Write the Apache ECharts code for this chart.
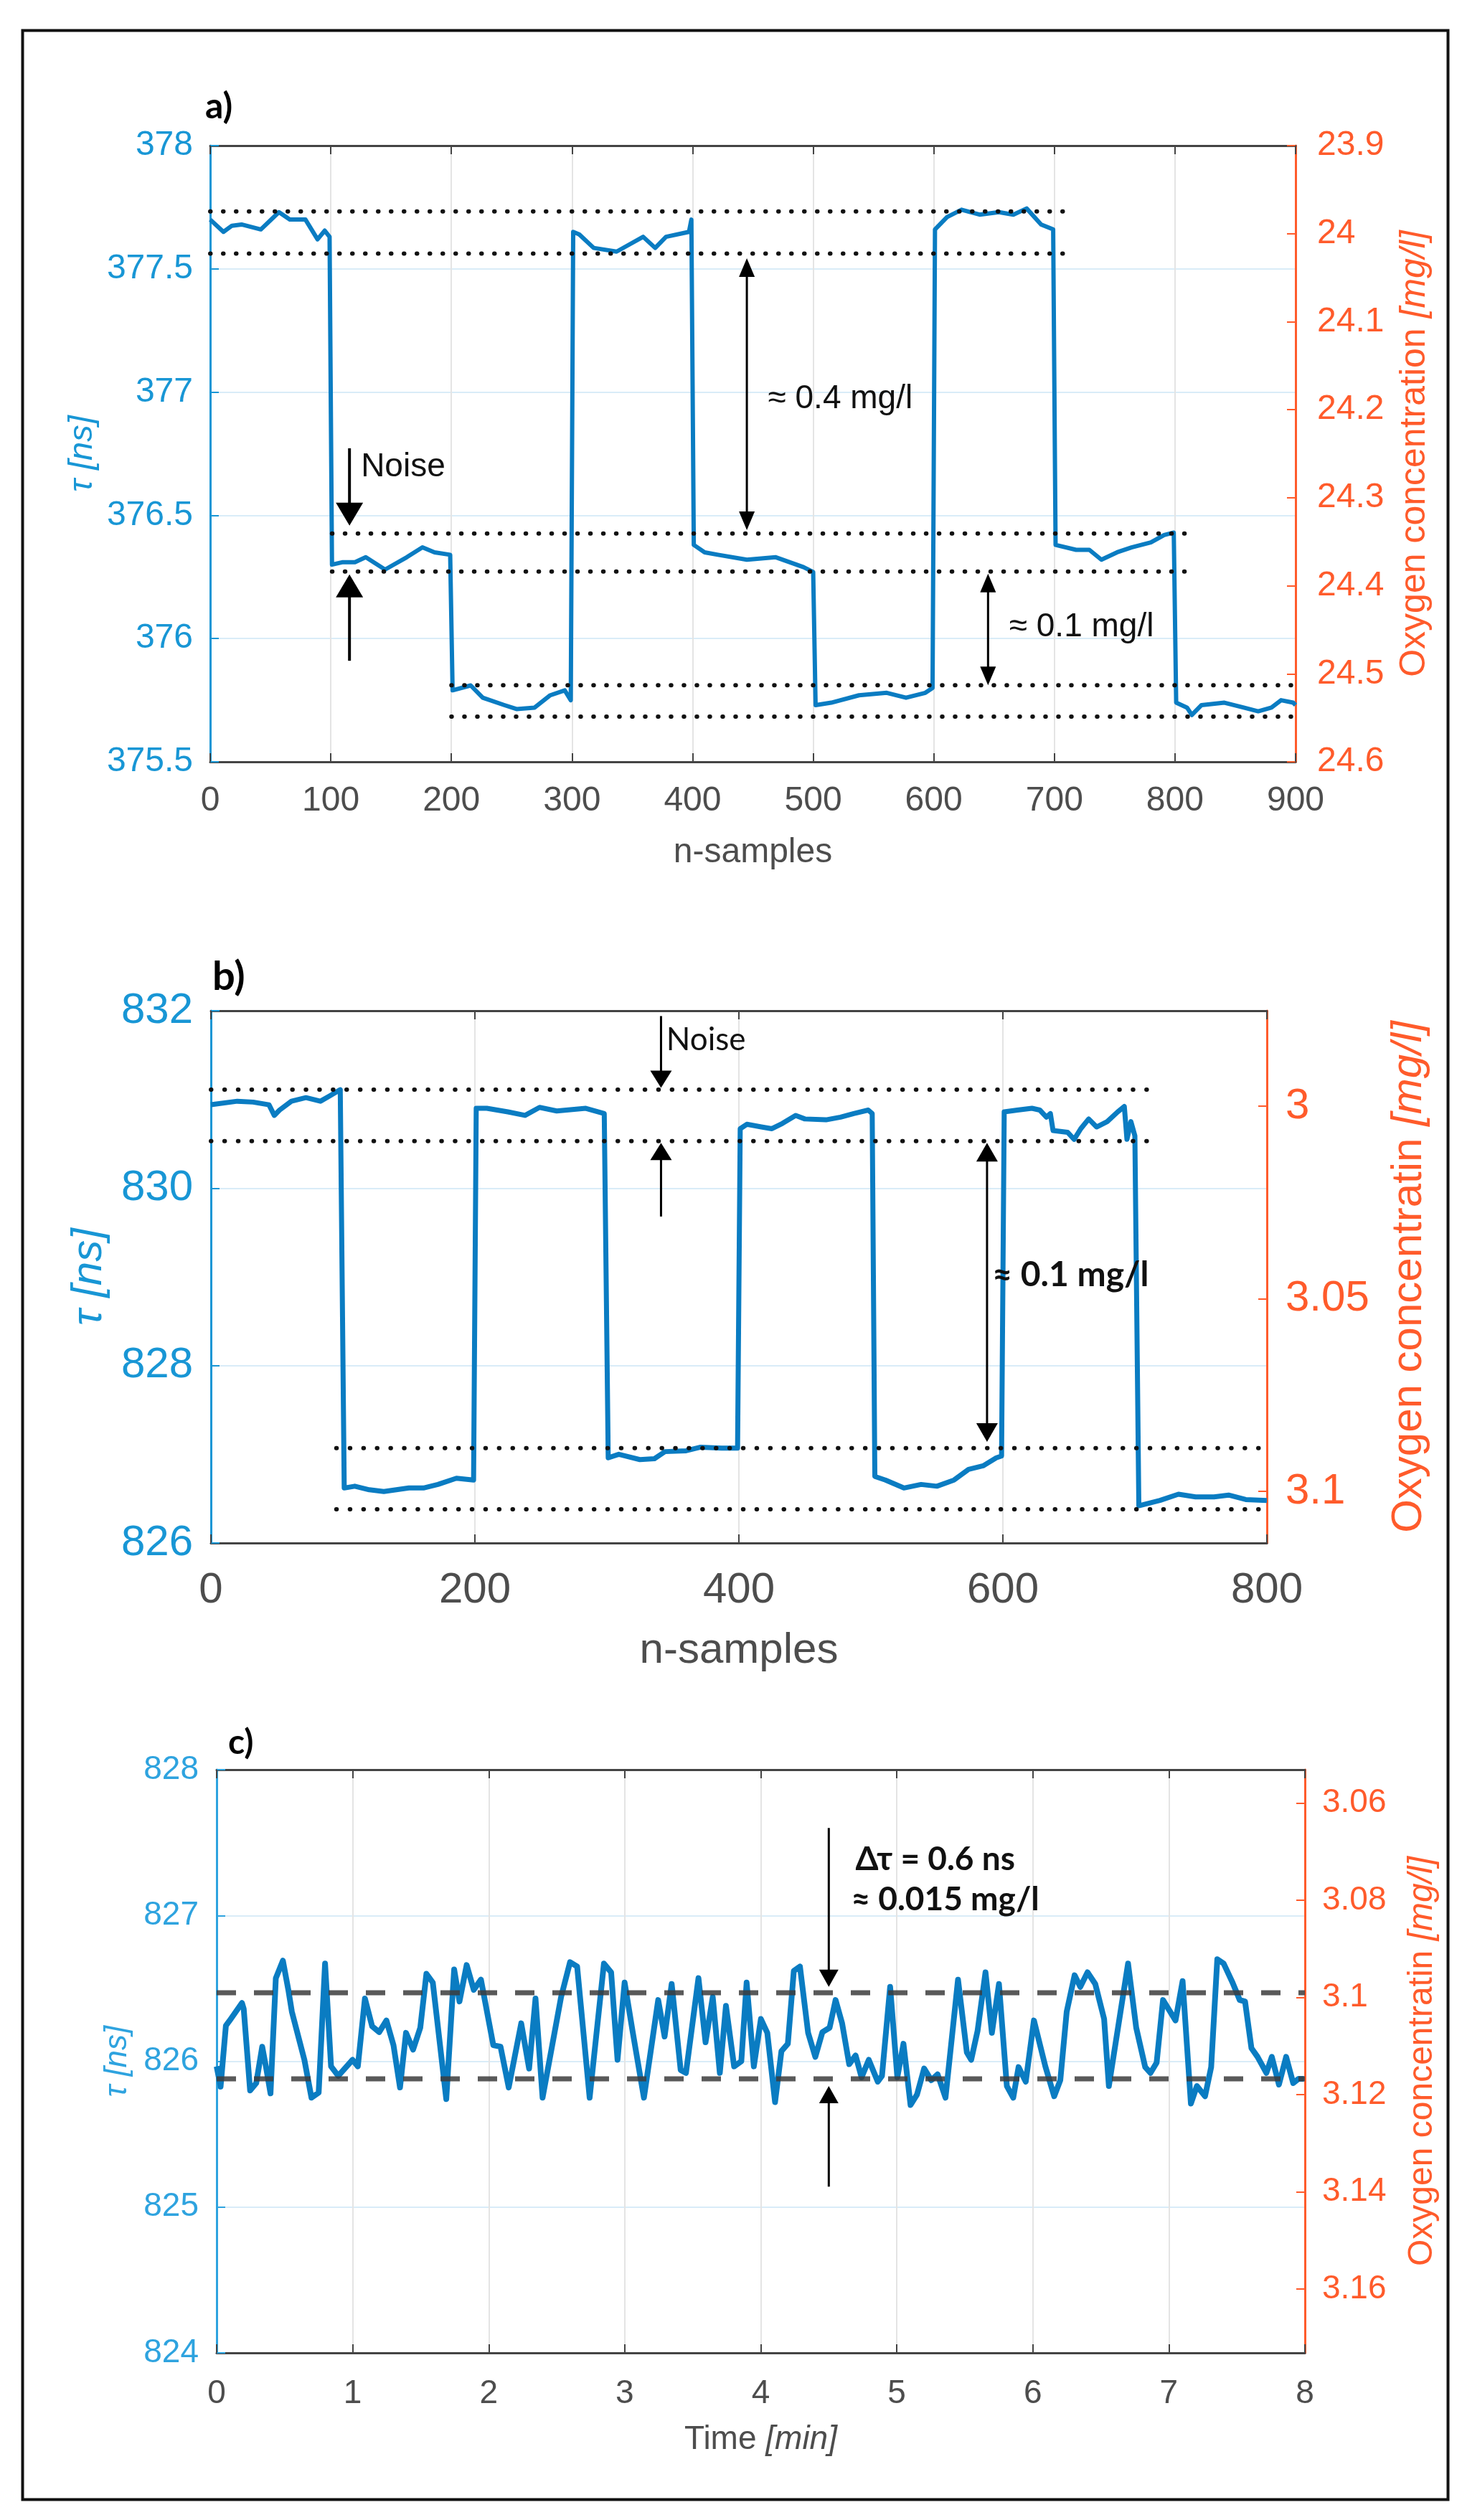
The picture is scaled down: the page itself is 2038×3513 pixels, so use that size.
<!DOCTYPE html>
<html>
<head>
<meta charset="utf-8">
<title>Oxygen sensor lifetime</title>
<script src="https://cdn.jsdelivr.net/npm/echarts@6/dist/echarts.min.js"></script>
<style>
  html, body { margin: 0; padding: 0; background: #fff; }
  #main { width: 2038px; height: 3513px; }
</style>
</head>
<body>
<div id="main"></div>
<script>
// ---- panel a) ----
var aSamples = [0, 11, 18, 26, 42, 57, 66, 79, 89, 95, 99, 101, 110, 120, 129, 145, 163, 176, 186, 199,
  201, 216, 226, 244, 254, 269, 282, 294, 299, 301, 306, 318, 337, 359, 369, 378, 397, 399,
  401, 410, 421, 445, 469, 492, 500, 502, 515, 538, 561, 577, 593, 599, 601, 611, 623, 638, 654, 666,
  677, 689, 699, 701, 718, 729, 739, 752, 764, 780, 791, 799, 801, 810, 814, 822, 841, 857, 869, 880, 888, 898, 900];
var aTau = [377.70, 377.65, 377.675, 377.68, 377.66, 377.73, 377.70, 377.70, 377.62, 377.655, 377.63,
  376.30, 376.31, 376.31, 376.33, 376.28, 376.33, 376.37, 376.35, 376.34,
  375.79, 375.81, 375.76, 375.73, 375.714, 375.72, 375.77, 375.79, 375.75,
  377.65, 377.64, 377.585, 377.57, 377.63, 377.585, 377.63, 377.65, 377.70,
  376.38, 376.35, 376.34, 376.32, 376.33, 376.29, 376.27,
  375.73, 375.74, 375.77, 375.78, 375.76, 375.78, 375.80,
  377.66, 377.71, 377.74, 377.72, 377.73, 377.72, 377.745, 377.68, 377.66,
  376.38, 376.36, 376.36, 376.32, 376.35, 376.37, 376.39, 376.42, 376.43,
  375.74, 375.72, 375.69, 375.73, 375.74, 375.72, 375.705, 375.72, 375.75, 375.74, 375.73];
var aLevels = [[0, 710, 377.733], [0, 712, 377.562], [101, 810, 376.426], [101, 812, 376.272],
  [200, 906, 375.811], [200, 908, 375.683]];
var aRightTicks = [23.9, 24, 24.1, 24.2, 24.3, 24.4, 24.5, 24.6];
var aNoiseArrows = [[115.5, 376.772, 376.458, 0], [115.5, 375.91, 376.26, 0]];
var aSpanArrows = [[445, 377.543, 376.44, 1], [645, 376.263, 375.811, 1]];
var aNotes = ['Noise', '\u2248 0.4 mg/l', '\u2248 0.1 mg/l'];
var aNotePos = [[125, 376.696], [462.5, 376.973], [662.5, 376.047]];

// ---- panel b) ----
var bSamples = [0, 20, 32, 44, 48, 52, 61, 72, 83, 90, 98,
  101, 109, 120, 131, 150, 161, 172, 186, 199,
  201, 209, 225, 238, 249, 262, 284, 298,
  301, 309, 325, 336, 344, 360, 371, 387, 399,
  401, 406, 417, 425, 433, 443, 450, 466, 477, 487, 498, 501,
  503, 511, 525, 538, 550, 563, 574, 585, 595, 599,
  601, 611, 622, 628, 633, 636, 638, 649, 654, 659, 665, 671, 679, 687, 692, 694, 697, 700,
  703, 719, 733, 746, 760, 771, 784, 800];
var bTau = [830.94, 830.98, 830.97, 830.94, 830.82, 830.88, 830.98, 831.02, 830.98, 831.04, 831.11,
  826.62, 826.64, 826.60, 826.58, 826.62, 826.62, 826.66, 826.73, 826.71,
  830.90, 830.90, 830.86, 830.82, 830.91, 830.87, 830.90, 830.84,
  826.96, 827.00, 826.94, 826.95, 827.03, 827.04, 827.08, 827.07, 827.07,
  830.67, 830.72, 830.69, 830.67, 830.73, 830.82, 830.78, 830.77, 830.80, 830.84, 830.88, 830.84,
  826.75, 826.71, 826.62, 826.66, 826.64, 826.71, 826.83, 826.87, 826.96, 826.98,
  830.86, 830.88, 830.90, 830.88, 830.80, 830.84, 830.65, 830.63, 830.55, 830.67, 830.78, 830.69,
  830.75, 830.86, 830.92, 830.55, 830.75, 830.59,
  826.42, 826.48, 826.55, 826.52, 826.52, 826.54, 826.49, 826.48];
var bLevels = [[0, 710, 831.11], [0, 710, 830.53], [95, 800, 827.07], [95, 800, 826.38]];
var bRightTicks = [3, 3.05, 3.1];
var bNoiseArrows = [[341, 831.94, 831.13, 0], [341, 829.68, 830.51, 0]];
var bSpanArrows = [[588, 830.51, 827.14, 1]];
var bNoise = ['Noise'];
var bNoisePos = [[345, 831.67]];
var bSpan = ['\u2248 0.1 mg/l'];
var bSpanPos = [[592, 829.02]];

// ---- panel c) ----
var cTime = [0, 0.029, 0.068, 0.094, 0.186, 0.199, 0.246, 0.291, 0.335, 0.362, 0.396, 0.435, 0.487, 0.527,
  0.553, 0.645, 0.697, 0.75, 0.797, 0.841, 0.894, 0.999, 1.038, 1.09, 1.143, 1.195, 1.248, 1.3, 1.348,
  1.392, 1.444, 1.497, 1.542, 1.589, 1.688, 1.746, 1.785, 1.838, 1.89, 1.943, 2.034, 2.087, 2.147,
  2.239, 2.297, 2.344, 2.396, 2.532, 2.598, 2.65, 2.742, 2.847, 2.9, 2.947, 2.999, 3.057, 3.141,
  3.246, 3.293, 3.345, 3.411, 3.45, 3.542, 3.594, 3.647, 3.699, 3.744, 3.804, 3.857, 3.896, 3.949,
  4.001, 4.048, 4.105, 4.152, 4.199, 4.243, 4.288, 4.348, 4.401, 4.453, 4.506, 4.55, 4.598, 4.65,
  4.697, 4.741, 4.794, 4.86, 4.891, 4.951, 5.004, 5.049, 5.101, 5.148, 5.201, 5.253, 5.3, 5.358,
  5.45, 5.515, 5.547, 5.594, 5.652, 5.699, 5.751, 5.809, 5.856, 5.895, 5.948, 6.008, 6.092, 6.157,
  6.202, 6.249, 6.307, 6.349, 6.402, 6.459, 6.524, 6.559, 6.7, 6.76, 6.826, 6.865, 6.91, 6.957,
  7.049, 7.101, 7.162, 7.206, 7.266, 7.311, 7.356, 7.403, 7.468, 7.521, 7.56, 7.607, 7.652, 7.717,
  7.757, 7.809, 7.862, 7.914, 7.954, 7.993];
var cTau = [825.965, 825.826, 826.244, 826.277, 826.40, 826.36, 825.80, 825.85, 826.10, 825.965,
  825.78, 826.57, 826.69, 826.49, 826.34, 826.01, 825.75, 825.785, 826.67, 825.965, 825.90, 826.01,
  825.965, 826.43, 826.24, 826.20, 826.28, 826.11, 825.82, 826.195, 826.08, 826.23, 826.60, 826.54,
  825.74, 826.63, 826.41, 826.66, 826.49, 826.56, 826.11, 826.10, 825.82, 826.26, 825.95, 826.43,
  825.75, 826.44, 826.68, 826.65, 825.75, 826.67, 826.61, 826.01, 826.54, 826.21, 825.75, 826.42,
  826.17, 826.53, 825.94, 825.92, 826.57, 826.13, 826.44, 825.92, 826.38, 825.965, 826.0, 826.54,
  825.965, 826.29, 826.195,
  825.72, 826.07, 826.12, 826.62, 826.65, 826.195, 826.03, 826.20, 826.23, 826.42, 826.26, 825.98,
  826.04, 825.89, 826.01, 825.86, 825.90, 826.51, 825.89, 826.12, 825.70, 825.77, 825.95, 825.87,
  825.91, 825.75, 826.56, 826.06, 826.01, 826.21, 826.61, 826.195, 826.53, 825.83, 825.75, 825.96,
  825.86, 826.28, 825.965, 825.76, 825.87, 826.34, 826.59, 826.51, 826.61, 826.53, 826.29, 825.83,
  826.67, 826.23, 825.96, 825.92, 825.99, 826.42, 826.28, 826.55, 825.71, 825.83, 825.76, 825.96,
  826.70, 826.67, 826.54, 826.42, 826.41, 826.09, 826.03, 825.92, 826.03, 825.84, 826.03, 825.85,
  825.88, 825.88];
var cLevels = [[0, 8, 826.47], [0, 8, 825.88]];
var cRightTicks = [3.06, 3.08, 3.1, 3.12, 3.14, 3.16];
var cArrows = [[4.5, 827.6, 826.51, 0], [4.5, 825.14, 825.83, 0]];
var cNotes = ['\u0394\u03c4 = 0.6 ns', '\u2248 0.015 mg/l'];
var cNotePos = [[4.696, 827.384], [4.664, 827.108]];

var BLUE = '#1896d5';
var ORANGE = '#ff5b2b';
var LINE = '#0a7cc2';
var GREY = '#4d4d4d';
var SANS = "'Liberation Sans', Arial, sans-serif";
var CAL = "Lato, 'Noto Sans', 'DejaVu Sans', sans-serif";

function zip(xs, ys) {
    return xs.map(function (x, i) { return [x, ys[i]]; });
}
function trimNum(v) {
    return String(+(+v).toFixed(3));
}

var grids = [], xAxes = [], yAxes = [], series = [];

var addPanel = function (p) {
    var gi = grids.length;
    grids.push({ left: p.box[0], top: p.box[1], width: p.box[2], height: p.box[3] });
    xAxes.push({
        gridIndex: gi, type: 'value', position: 'bottom', min: p.xMin, max: p.xMax, interval: p.xStep,
        axisLine: { onZero: false, lineStyle: { color: '#444', width: 3 } },
        axisTick: { inside: true, length: 12, lineStyle: { color: '#444', width: 2 } },
        axisLabel: { color: GREY, fontSize: p.xFont, fontFamily: SANS, margin: p.xMargin },
        splitLine: { show: true, lineStyle: { color: '#e4e4e4', width: 2 } },
        name: p.xName, nameLocation: 'middle', nameGap: p.xNameGap,
        nameTextStyle: {
            color: GREY, fontSize: p.xNameSize, fontFamily: SANS,
            rich: {
                a: { color: GREY, fontSize: p.xNameSize, fontFamily: SANS },
                b: { color: GREY, fontSize: p.xNameSize, fontFamily: SANS, fontStyle: 'italic' }
            }
        }
    });
    xAxes.push({
        gridIndex: gi, type: 'value', position: 'top', min: p.xMin, max: p.xMax, interval: p.xStep,
        axisLine: { onZero: false, lineStyle: { color: '#444', width: 3 } },
        axisTick: { inside: true, length: 12, lineStyle: { color: '#444', width: 2 } },
        axisLabel: { show: false }, splitLine: { show: false }
    });
    yAxes.push({
        gridIndex: gi, type: 'value', position: 'left', min: p.yMin, max: p.yMax, interval: p.yStep,
        axisLine: { show: true, onZero: false, lineStyle: { color: p.leftColor, width: 3 } },
        axisTick: { show: true, inside: true, length: 12, lineStyle: { color: p.leftColor, width: 2 } },
        axisLabel: { color: p.leftColor, fontSize: p.font, fontFamily: SANS, margin: p.yMargin },
        splitLine: { show: true, lineStyle: { color: '#d9ecf8', width: 2 } },
        name: '\u03c4 [ns]', nameLocation: 'middle', nameRotate: 90, nameGap: p.leftGap,
        nameTextStyle: { color: p.leftColor, fontSize: p.leftSize, fontFamily: SANS, fontStyle: 'italic' }
    });
    yAxes.push({
        gridIndex: gi, type: 'value', position: 'right', inverse: true, min: p.rMin, max: p.rMax,
        axisLine: { show: true, onZero: false, lineStyle: { color: ORANGE, width: 3 } },
        axisTick: { show: true, inside: true, length: 12, customValues: p.rTicks, lineStyle: { color: ORANGE, width: 2 } },
        axisLabel: { color: ORANGE, fontSize: p.font, fontFamily: SANS, margin: p.rMargin,
            customValues: p.rTicks, formatter: trimNum },
        splitLine: { show: false },
        name: '{a|' + p.rName + '} {b|[mg/l]}', nameLocation: 'middle', nameRotate: 90, nameGap: p.rGap,
        nameTextStyle: {
            color: ORANGE, fontSize: p.rSize, fontFamily: SANS,
            rich: {
                a: { color: ORANGE, fontSize: p.rSize, fontFamily: SANS },
                b: { color: ORANGE, fontSize: p.rSize, fontFamily: SANS, fontStyle: 'italic' }
            }
        }
    });
    var xi = gi * 2, yi = gi * 2;
    series.push({
        type: 'line', xAxisIndex: xi, yAxisIndex: yi, data: zip(p.xs, p.ys),
        showSymbol: false, symbol: 'none', smooth: false, z: 3, silent: true,
        lineStyle: { color: LINE, width: p.lineWidth, join: 'round' }
    });
    p.levels.forEach(function (l) {
        series.push({
            type: 'line', xAxisIndex: xi, yAxisIndex: yi, data: [[l[0], l[2]], [l[1], l[2]]],
            showSymbol: false, symbol: 'none', z: 5, silent: true, clip: false,
            lineStyle: p.levelStyle
        });
    });
    return gi;
};

var arrowSeries = function (gi, data, width, headW, headH) {
    var head = function (x, y, d) {
        return {
            type: 'polygon',
            shape: { points: [[x, y], [x - headW / 2, y - d * headH], [x + headW / 2, y - d * headH]] },
            style: { fill: '#000' }
        };
    };
    return {
        type: 'custom', xAxisIndex: gi * 2, yAxisIndex: gi * 2, clip: false, z: 10, silent: true,
        data: data,
        renderItem: function (params, api) {
            var x = api.value(0);
            var p0 = api.coord([x, api.value(1)]);
            var p1 = api.coord([x, api.value(2)]);
            var both = api.value(3) === 1;
            var d = p1[1] > p0[1] ? 1 : -1;
            var s0 = both ? p0[1] + d * headH * 0.9 : p0[1];
            var s1 = p1[1] - d * headH * 0.9;
            var kids = [
                { type: 'line', shape: { x1: p0[0], y1: s0, x2: p1[0], y2: s1 }, style: { stroke: '#000', lineWidth: width } },
                head(p1[0], p1[1], d)
            ];
            if (both) kids.push(head(p0[0], p0[1], -d));
            return { type: 'group', children: kids };
        }
    };
};

var noteSeries = function (gi, pos, texts, size, family, weight) {
    return {
        type: 'custom', xAxisIndex: gi * 2, yAxisIndex: gi * 2, clip: false, z: 11, silent: true,
        data: pos.map(function (q, i) { return [q[0], q[1], i]; }),
        renderItem: function (params, api) {
            var pt = api.coord([api.value(0), api.value(1)]);
            return {
                type: 'text', x: pt[0], y: pt[1],
                style: { text: texts[api.value(2)], fontSize: size, fontFamily: family, fontWeight: weight,
                    fill: '#111', align: 'left', verticalAlign: 'middle' }
            };
        }
    };
};

var dots = function (gap) {
    return { color: '#111', width: 6, type: [0.5, gap], cap: 'round' };
};

var ga = addPanel({
    box: [293, 203, 1513, 859], xMin: 0, xMax: 900, xStep: 100, yMin: 375.5, yMax: 378, yStep: 0.5,
    rMin: 23.9, rMax: 24.6, rTicks: aRightTicks, font: 48, xFont: 48, xMargin: 31, yMargin: 24, rMargin: 30,
    xName: 'n-samples', xNameGap: 103, xNameSize: 48, leftColor: BLUE, leftGap: 152, leftSize: 47,
    rName: 'Oxygen concentration', rGap: 141, rSize: 50,
    xs: aSamples, ys: aTau, lineWidth: 6, levels: aLevels, levelStyle: dots(17.5)
});
series.push(arrowSeries(ga, aNoiseArrows, 4, 38, 32));
series.push(arrowSeries(ga, aSpanArrows, 3, 22, 26));
series.push(noteSeries(ga, aNotePos, aNotes, 46, SANS, 'normal'));

var gb = addPanel({
    box: [294, 1409, 1472, 742], xMin: 0, xMax: 800, xStep: 200, yMin: 826, yMax: 832, yStep: 2,
    rMin: 2.9752, rMax: 3.1134, rTicks: bRightTicks, font: 60, xFont: 60, xMargin: 36, yMargin: 25, rMargin: 26,
    xName: 'n-samples', xNameGap: 120, xNameSize: 60, leftColor: BLUE, leftGap: 140, leftSize: 60,
    rName: 'Oxygen concentratin', rGap: 168, rSize: 60,
    xs: bSamples, ys: bTau, lineWidth: 7, levels: bLevels, levelStyle: dots(18.4)
});
series.push(arrowSeries(gb, bNoiseArrows, 3, 30, 24));
series.push(arrowSeries(gb, bSpanArrows, 3, 30, 26));
series.push(noteSeries(gb, bNoisePos, bNoise, 44, CAL, 'normal'));
series.push(noteSeries(gb, bSpanPos, bSpan, 48, CAL, 'bold'));

var gc = addPanel({
    box: [302, 2467, 1517, 813], xMin: 0, xMax: 8, xStep: 1, yMin: 824, yMax: 828, yStep: 1,
    rMin: 3.0531, rMax: 3.1731, rTicks: cRightTicks, font: 46, xFont: 46, xMargin: 34, yMargin: 25, rMargin: 24,
    xName: '{a|Time} {b|[min]}', xNameGap: 98, xNameSize: 46, leftColor: '#2ea3df', leftGap: 116, leftSize: 44,
    rName: 'Oxygen concentratin', rGap: 140, rSize: 48,
    xs: cTime, ys: cTau, lineWidth: 8, levels: cLevels,
    levelStyle: { color: '#3c3c3c', width: 7, type: [27, 25], opacity: 0.85 }
});
series.push(arrowSeries(gc, cArrows, 3, 27, 24));
series.push(noteSeries(gc, cNotePos, cNotes, 46, CAL, 'bold'));

var panelTitle = function (text, left, top, size) {
    return { text: text, left: left, top: top, padding: 0,
        textStyle: { fontSize: size, fontWeight: 'bold', fontFamily: CAL, color: '#000' } };
};

var chart = echarts.init(document.getElementById('main'), null, { renderer: 'canvas' });
chart.setOption({
    backgroundColor: '#fff',
    animation: false,
    title: [panelTitle('a)', 286, 124, 50), panelTitle('b)', 296, 1334, 56), panelTitle('c)', 318, 2406, 48)],
    grid: grids,
    xAxis: xAxes,
    yAxis: yAxes,
    series: series,
    graphic: [{
        type: 'rect', left: 29, top: 40, silent: true,
        shape: { width: 1987, height: 3442 },
        style: { fill: 'none', stroke: '#111', lineWidth: 4 }
    }]
});
</script>
</body>
</html>
